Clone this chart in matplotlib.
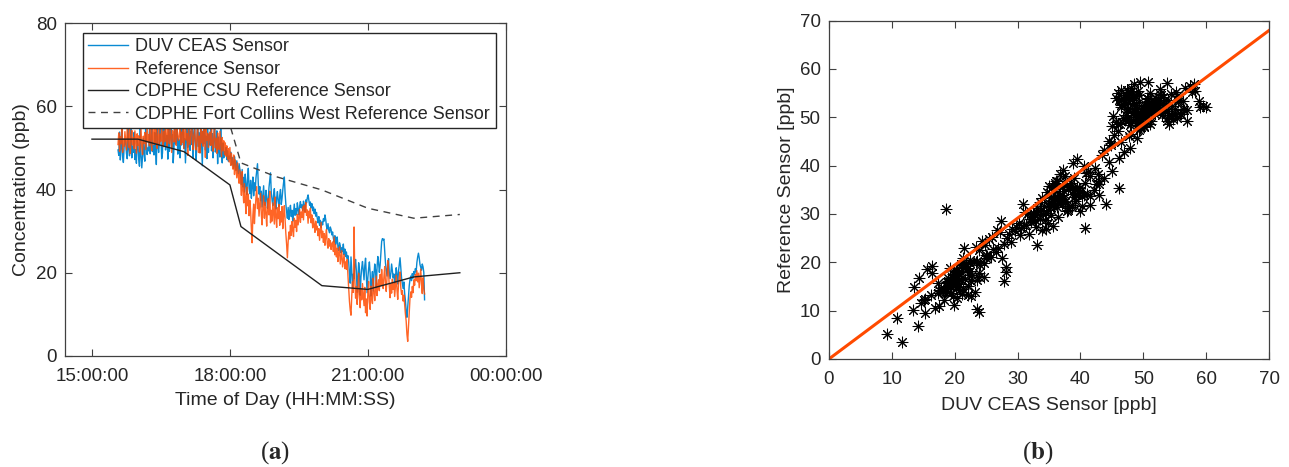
import numpy as np
import matplotlib
matplotlib.use('Agg')
import matplotlib.pyplot as plt

plt.rcParams['font.family'] = ['Liberation Sans', 'DejaVu Sans']
plt.rcParams['font.size'] = 13
plt.rcParams['text.color'] = '#262626'
plt.rcParams['axes.labelcolor'] = '#262626'
plt.rcParams['xtick.color'] = '#262626'
plt.rcParams['ytick.color'] = '#262626'

# sensor readings, one per minute starting 15:34
start_min = 15 * 60 + 34
duv = [
    49.5, 48.2, 53.8, 47.1, 49.9, 55.2, 48.0, 46.5, 50.2, 52.1, 51.5, 48.7, 47.4, 54.6, 49.8, 48.1, 51.0, 56.3, 47.6, 50.4,
    48.9, 53.7, 47.2, 49.6, 46.3, 51.8, 50.9, 47.5, 45.6, 55.0, 48.2, 45.2, 47.9, 52.3, 48.6, 46.8, 54.7, 51.1, 48.4, 50.0,
    49.3, 54.4, 48.6, 50.8, 57.0, 49.1, 50.5, 48.3, 53.7, 50.2, 46.0, 55.3, 50.6, 48.9, 51.2, 58.8, 52.1, 47.4, 48.7, 54.5,
    50.6, 56.4, 49.5, 51.8, 53.0, 47.3, 55.6, 49.2, 52.7, 59.1, 50.0, 53.2, 46.4, 49.8, 57.5, 50.9, 51.9, 54.4, 48.5, 52.1,
    51.3, 47.6, 55.8, 50.7, 53.9, 58.1, 49.9, 52.2, 46.4, 51.7, 56.3, 50.1, 52.6, 60.0, 49.4, 54.0, 50.8, 57.0, 47.5, 53.2,
    55.4, 50.6, 47.1, 51.9, 58.2, 50.3, 53.6, 48.8, 56.7, 50.9, 45.7, 54.1, 51.0, 59.5, 49.5, 52.8, 47.4, 55.5, 48.9, 53.3,
    50.7, 56.0, 49.3, 53.4, 47.6, 51.9, 57.8, 49.0, 50.3, 54.1, 46.2, 52.6, 49.5, 47.8, 55.0, 49.7, 46.4, 51.2, 47.6, 49.1,
    48.5, 50.1, 47.2, 49.3, 46.8, 48.0, 47.5, 49.0, 45.9, 47.7, 46.4, 45.1, 47.9, 46.0, 44.6, 46.9, 45.3, 43.8, 46.2, 44.9,
    43.5, 41.2, 44.8, 40.6, 42.9, 39.4, 43.7, 41.0, 38.8, 42.5, 45.1, 40.3, 39.0, 42.2, 37.9, 40.8, 43.0, 38.5, 41.6, 39.7,
    42.8, 44.6, 46.2, 41.5, 38.9, 40.7, 37.3, 39.6, 35.8, 38.4, 40.9, 37.0, 36.2, 39.8, 38.1, 35.5, 37.6, 40.5, 42.3, 44.0,
    39.2, 37.5, 36.1, 38.7, 40.2, 36.8, 35.3, 38.0, 39.5, 37.2, 35.9, 38.6, 40.0, 36.4, 37.8, 39.9, 41.6, 43.0, 39.1, 36.5,
    34.6, 33.1, 35.7, 32.8, 34.9, 36.2, 33.5, 35.0, 32.4, 34.3, 36.5, 33.8, 35.4, 34.0, 36.8, 35.2, 33.9, 36.0, 37.1, 35.6,
    36.3, 35.0, 37.2, 36.1, 34.7, 37.5, 36.8, 38.0, 38.7, 37.4, 36.2, 37.0, 35.6, 36.6, 34.9, 35.8, 34.2, 35.3, 33.6, 34.5,
    33.1, 32.0, 33.5, 31.4, 32.6, 30.9, 32.2, 31.5, 33.0, 32.4, 33.9, 32.8, 31.2, 30.5, 31.8, 30.2, 29.6, 31.0, 30.4, 29.1,
    29.8, 28.3, 27.4, 28.9, 26.8, 27.9, 28.6, 26.1, 25.4, 27.2, 26.5, 24.8, 26.0, 25.1, 26.9, 24.3, 25.7, 23.9, 25.0, 23.4,
    24.1, 22.6, 19.8, 17.5, 23.8, 20.2, 16.4, 19.7, 18.6, 21.9, 23.2, 20.5, 15.3, 19.1, 22.4, 20.8, 14.6, 18.9, 21.2, 22.7,
    20.6, 18.3, 21.7, 23.5, 19.4, 15.2, 18.8, 21.0, 22.6, 19.9, 14.4, 18.1, 20.3, 15.6, 19.5, 22.1, 20.7, 16.4, 21.3, 23.9,
    22.4, 20.1, 21.8, 24.6, 27.5, 28.2, 27.9, 28.1, 25.0, 22.3, 20.7, 19.2, 21.5, 23.4, 20.0, 18.6, 19.9, 22.1, 20.4, 18.8,
    19.7, 17.5, 18.9, 21.2, 19.6, 17.3, 20.4, 22.1, 23.6, 21.0, 18.7, 17.4, 16.2, 17.8, 15.1, 13.4, 10.8, 9.3, 11.6, 14.2,
    16.9, 18.4, 19.2, 18.1, 19.8, 18.7, 20.3, 19.5, 21.0, 20.2, 22.5, 23.8, 24.7, 23.6, 22.0, 21.3, 20.6, 22.1, 21.4, 20.1,
    13.5,
]
ref = [
    50.8, 53.6, 49.2, 52.7, 51.0, 55.3, 48.9, 52.1, 50.4, 53.9, 51.6, 49.5, 54.7, 52.3, 50.1, 56.0, 48.6, 51.8, 54.2, 50.7,
    52.5, 49.8, 54.1, 51.3, 48.7, 53.4, 50.6, 52.9, 49.1, 51.7, 54.6, 50.2, 48.4, 52.8, 51.1, 53.7, 49.6, 52.0, 54.9, 51.4,
    53.2, 50.5, 56.8, 51.9, 49.3, 55.4, 52.6, 50.8, 57.2, 51.2, 55.1, 49.9, 52.4, 54.5, 50.7, 53.3, 51.6, 55.6, 52.0, 50.3,
    54.0, 51.5, 57.3, 52.7, 50.4, 54.6, 53.1, 51.0, 55.8, 52.2, 48.9, 54.2, 53.6, 51.4, 56.5, 52.5, 50.6, 54.8, 53.0, 51.8,
    52.9, 55.2, 50.7, 53.8, 51.3, 56.9, 49.8, 52.6, 55.7, 51.9, 53.4, 48.2, 54.9, 52.1, 50.8, 53.6, 57.4, 51.5, 49.6, 53.0,
    54.4, 51.7, 49.5, 53.2, 55.5, 48.9, 52.8, 48.8, 56.1, 51.2, 53.9, 50.4, 55.0, 52.3, 47.7, 54.6, 51.8, 53.5, 50.1, 52.7,
    53.8, 50.6, 54.7, 51.4, 49.2, 52.9, 55.2, 50.0, 52.3, 48.7, 53.6, 51.1, 49.6, 54.0, 50.8, 47.9, 52.5, 49.3, 51.7, 48.4,
    51.2, 48.0, 50.5, 47.3, 49.8, 46.6, 50.1, 45.8, 48.7, 46.2, 44.9, 48.3, 43.6, 47.1, 45.0, 42.8, 46.4, 43.2, 41.5, 44.7,
    42.1, 38.6, 44.3, 39.9, 36.8, 41.4, 37.5, 34.2, 40.6, 36.1, 38.9, 33.7, 37.4, 35.0, 30.6, 27.2, 33.9, 36.5, 31.8, 35.3,
    38.2, 40.7, 35.4, 37.9, 33.6, 36.4, 39.1, 34.0, 31.5, 35.8, 38.5, 33.1, 36.9, 34.4, 31.2, 35.6, 37.8, 33.9, 39.6, 32.0,
    35.0, 32.4, 36.8, 34.1, 31.7, 38.2, 33.5, 30.9, 35.6, 33.0, 36.4, 31.4, 34.7, 32.2, 35.9, 30.6, 33.8, 36.1, 32.6, 29.4,
    26.8, 23.6, 27.5, 29.8, 28.1, 31.4, 29.0, 32.3, 30.2, 28.7, 33.1, 30.9, 32.6, 29.9, 34.0, 31.5, 33.4, 35.2, 32.1, 34.6,
    33.3, 35.8, 32.7, 36.2, 34.5, 36.9, 33.8, 35.1, 31.9, 34.8, 33.2, 35.5, 32.0, 33.9, 30.8, 33.0, 31.6, 29.7, 32.4, 30.3,
    31.2, 28.9, 30.6, 27.8, 29.9, 32.1, 28.4, 30.0, 27.3, 29.4, 26.6, 28.8, 30.4, 27.0, 25.9, 28.2, 26.4, 27.7, 25.6, 26.9,
    27.4, 25.1, 28.6, 24.3, 26.7, 23.8, 25.9, 22.7, 24.9, 26.2, 22.1, 23.6, 25.3, 21.4, 23.0, 24.4, 21.0, 22.6, 20.8, 23.2,
    19.4, 16.2, 13.1, 11.0, 9.8, 14.5, 17.8, 15.3, 31.0, 18.6, 13.9, 16.7, 12.4, 15.8, 19.9, 14.2, 11.6, 16.1, 13.5, 17.4,
    14.8, 12.1, 16.5, 10.4, 13.7, 9.6, 15.2, 17.9, 13.0, 11.2, 16.8, 14.1, 12.6, 18.7, 15.6, 13.3, 16.4, 19.2, 14.5, 17.0,
    18.3, 15.7, 19.6, 16.9, 20.8, 18.0, 16.2, 19.1, 21.5, 17.4, 15.5, 18.8, 22.9, 20.1, 16.6, 14.0, 17.3, 15.1, 18.5, 16.0,
    17.6, 14.3, 16.8, 19.4, 15.9, 13.6, 17.1, 18.9, 20.2, 16.4, 14.8, 15.7, 13.2, 14.6, 12.3, 10.1, 8.4, 5.2, 3.5, 6.9,
    10.6, 13.9, 15.4, 14.1, 16.7, 15.2, 18.3, 17.0, 19.6, 18.1, 20.5, 17.8, 19.9, 16.4, 18.6, 20.9, 17.2, 15.0, 18.8, 16.3,
    14.9,
]

# hourly station data (hours of day)
csu_t = [15, 16, 17, 18, 18.24, 20, 21, 22, 23]
csu_v = [52.1, 52.1, 49.1, 41.1, 31.1, 16.9, 16.0, 19.0, 20.0]
fcw_t = [17, 18, 18.24, 19, 20, 21, 22, 23]
fcw_v = [58.0, 55.5, 46.4, 43.1, 39.9, 35.5, 33.1, 34.0]

fit_slope = 0.971

xticks_h = [15, 18, 21, 24]
xtick_labels = ['15:00:00', '18:00:00', '21:00:00', '00:00:00']

t = (start_min + np.arange(len(duv))) / 60.0

blue = '#0A8AD2'
orange = '#FF4A00'
axcol = '#404040'

fig = plt.figure(figsize=(12.89, 4.67), dpi=100)
ax1 = fig.add_axes([0.0504, 0.2377, 0.342, 0.713])
ax2 = fig.add_axes([0.6431, 0.2313, 0.3414, 0.7245])

ax1.plot(t, duv, color=blue, lw=1.0, label='DUV CEAS Sensor')
ax1.plot(t, ref, color=orange, lw=1.0, alpha=0.85, label='Reference Sensor')
ax1.plot(csu_t, csu_v, color='#202020', lw=1.0, label='CDPHE CSU Reference Sensor')
ax1.plot(fcw_t, fcw_v, color='#404040', lw=1.0, ls=(0, (5, 4)),
         label='CDPHE Fort Collins West Reference Sensor')
ax1.set_xlim(15 - 27 / 46, 24)
ax1.set_ylim(0, 80)
ax1.set_xticks(xticks_h)
ax1.set_xticklabels(xtick_labels)
ax1.set_yticks([0, 20, 40, 60, 80])
ax1.set_xlabel('Time of Day (HH:MM:SS)', fontsize=14, labelpad=5)
ax1.set_ylabel('Concentration (ppb)', fontsize=14, labelpad=4)
leg = ax1.legend(loc='upper left', bbox_to_anchor=(0.041, 0.97), borderaxespad=0,
                 fancybox=False, framealpha=1, edgecolor='#262626', fontsize=13,
                 handlelength=2.2, labelspacing=0.3, borderpad=0.3, handletextpad=0.4)
leg.get_frame().set_linewidth(1.0)

ax2.scatter(duv, ref, marker=(8, 2, 0), s=60, color='black', linewidths=0.75)
xf = np.array([0, 70])
ax2.plot(xf, fit_slope * xf, color=orange, lw=2.2)
ax2.set_xlim(0, 70)
ax2.set_ylim(0, 70)
ax2.set_xticks(range(0, 71, 10))
ax2.set_yticks(range(0, 71, 10))
ax2.set_xlabel('DUV CEAS Sensor [ppb]', fontsize=14, labelpad=6)
ax2.set_ylabel('Reference Sensor [ppb]', fontsize=14, labelpad=3)

for ax in (ax1, ax2):
    for sp in ax.spines.values():
        sp.set_color(axcol)
        sp.set_linewidth(0.9)
    ax.tick_params(direction='in', length=5, width=0.8, top=True, right=True,
                   color=axcol, labelsize=13.5)
    ax.tick_params(axis='x', pad=9)
    ax.tick_params(axis='y', pad=6)

fig.text(0.2135, 0.03, r'($\mathbf{a}$)', fontsize=18, family='Liberation Serif',
         math_fontfamily='stix', ha='center', va='center')
fig.text(0.805, 0.03, r'($\mathbf{b}$)', fontsize=18, family='Liberation Serif',
         math_fontfamily='stix', ha='center', va='center')

fig.savefig('out.png', dpi=100)
